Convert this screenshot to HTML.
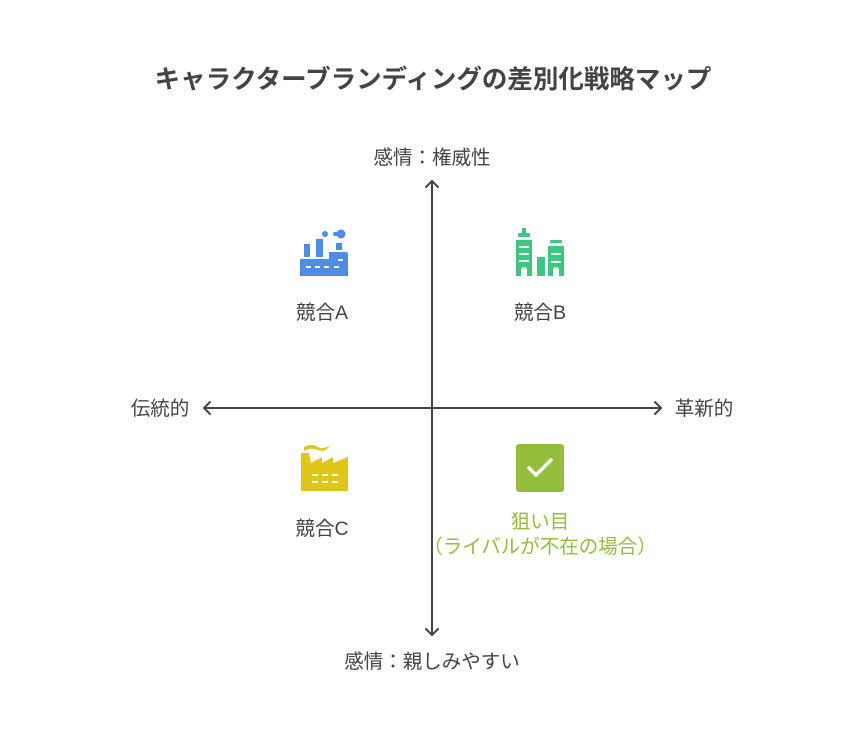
<!DOCTYPE html>
<html><head><meta charset="utf-8"><style>
body{margin:0;background:#fff}
text{font-family:"Liberation Sans","Noto Sans CJK JP",sans-serif}
</style></head><body>
<svg width="864" height="732" viewBox="0 0 864 732" xmlns="http://www.w3.org/2000/svg">
<rect width="864" height="732" fill="#fff"/>
<text x="433" y="88" text-anchor="middle" font-size="25.5" font-weight="bold" fill="#444">キャラクターブランディングの差別化戦略マップ</text>
<g stroke="#444" stroke-width="2" fill="none" stroke-linecap="round" stroke-linejoin="round">
<line x1="432" y1="181" x2="432" y2="635"/>
<polyline points="426,187 432,181 438,187"/>
<polyline points="426,629 432,635 438,629"/>
<line x1="204" y1="408" x2="661" y2="408"/>
<polyline points="210,402 204,408 210,414"/>
<polyline points="655,402 661,408 655,414"/>
</g>
<g font-size="19.5" fill="#444" text-anchor="middle">
<text x="432" y="164">感情：権威性</text>
<text x="432" y="668">感情：親しみやすい</text>
<text x="160" y="415">伝統的</text>
<text x="704" y="415">革新的</text>
<text x="322" y="319">競合A</text>
<text x="540" y="319">競合B</text>
<text x="322" y="535">競合C</text>
</g>
<g font-size="19.5" fill="#93bf3c" text-anchor="middle">
<text x="540" y="528">狙い目</text>
<text x="540" y="553">（ライバルが不在の場合）</text>
</g>
<g fill="#4e8ce8">
<rect x="304" y="244" width="6" height="13"/>
<rect x="316" y="239" width="7" height="18"/>
<rect x="336" y="243" width="6" height="7"/>
<circle cx="325" cy="234" r="3"/>
<circle cx="341" cy="234" r="4.5"/><rect x="333" y="232" width="8" height="4" rx="2"/>
<path d="M300 259h29v-7h17a2 2 0 0 1 2 2v22h-48z"/>
</g>
<g fill="#fff"><rect x="306" y="266" width="5" height="2"/><rect x="315" y="266" width="5" height="2"/><rect x="324" y="266" width="5" height="2"/><rect x="334" y="266" width="5" height="2"/><rect x="338" y="259" width="5" height="2"/></g>
<g fill="#3ec77f">
<rect x="522" y="228" width="4" height="6"/>
<rect x="518" y="233" width="12" height="4" rx="1"/>
<path d="M516 240h16v36h-5v-6a3 3 0 0 0-6 0v6h-5z"/>
<rect x="537" y="257" width="8" height="19"/>
<rect x="550" y="240" width="12" height="3" rx="1"/>
<path d="M548 246h16v30h-5v-6a3 3 0 0 0-6 0v6h-5z"/>
</g>
<g fill="#fff"><rect x="519" y="246" width="10" height="2" rx="1"/><rect x="519" y="253" width="10" height="2" rx="1"/><rect x="519" y="260" width="10" height="2" rx="1"/><rect x="551" y="253" width="10" height="2" rx="1"/><rect x="551" y="261" width="10" height="2" rx="1"/></g>
<g fill="#e0c717">
<path d="M304 447q8 -4 14 0q6 3 12 -2q-4 8 -12 5q-6-3-14 1z"/>
<path d="M301 453h8l2 10l11-6v6l11-6v6l15-6v34h-47z"/>
</g>
<g fill="#fff"><rect x="312" y="474" width="6" height="2" rx="1"/><rect x="322" y="474" width="6" height="2" rx="1"/><rect x="332" y="474" width="6" height="2" rx="1"/><rect x="312" y="481" width="6" height="2" rx="1"/><rect x="322" y="481" width="6" height="2" rx="1"/><rect x="332" y="481" width="6" height="2" rx="1"/></g>
<rect x="516" y="444" width="48" height="48" rx="3" fill="#93bf3c"/>
<polyline points="529,468 536,475 551,460" fill="none" stroke="#fff" stroke-width="3.5" stroke-linecap="round" stroke-linejoin="round"/>
</svg>
</body></html>
